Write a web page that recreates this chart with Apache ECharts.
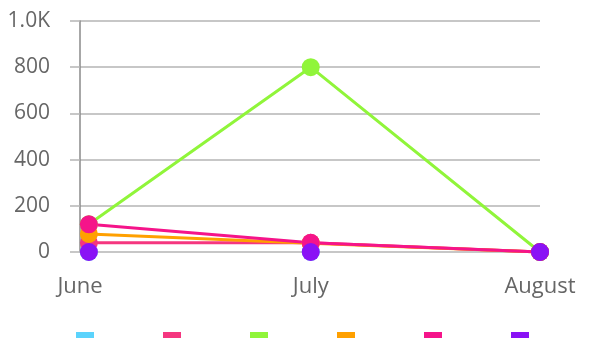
<!DOCTYPE html>
<html>
<head>
<meta charset="utf-8">
<script src="https://cdn.jsdelivr.net/npm/echarts@6/dist/echarts.min.js"></script>
<style>html,body{margin:0;padding:0;background:#fff}#c{width:600px;height:338px}</style>
</head>
<body>
<div id="c"></div>
<script>
var categories = ['June', 'July', 'August'];
var dates = ['2024-06-01', '2024-07-01', '2024-08-01'];
var seriesNames = ['Series 1', 'Series 2', 'Series 3', 'Series 4', 'Series 5', 'Series 6'];
var seriesColors = ['#5bd3fc', '#f5367f', '#90f53a', '#ffa000', '#f5148a', '#8a12f5'];
var showLine = [false, true, true, true, true, false];
var s1 = [0, 0, 0];
var s2 = [40, 40, 0];
var s3 = [120, 800, 0];
var s4 = [78, 38, 0];
var s5 = [120, 40, 0];
var s6 = [0, 0, 0];

var values = [s1, s2, s3, s4, s5, s6];
var DAY = 86400000;
var t0 = Date.parse(dates[0]);
var xs = dates.map(function (d) { return (Date.parse(d) - t0) / DAY; });
var xMin = xs[0] - 1.2, xMax = xs[xs.length - 1];
var labelVals = [xMin].concat(xs.slice(1));

var chart = echarts.init(document.getElementById('c'));
chart.setOption({
  animation: false,
  textStyle: { fontFamily: 'Open Sans' },
  grid: { left: 80, right: 60, top: 21, bottom: 86, containLabel: false },
  legend: {
    data: seriesNames.map(function (n, i) { return { name: n, icon: 'rect', itemStyle: { color: seriesColors[i] } }; }),
    top: 332,
    left: 76,
    padding: 0,
    itemWidth: 18,
    itemHeight: 12,
    itemGap: 69,
    selectedMode: false,
    formatter: function () { return ''; },
    textStyle: { fontSize: 1 }
  },
  xAxis: {
    type: 'value',
    min: xMin,
    max: xMax,
    axisLine: { show: false },
    axisTick: { show: false },
    splitLine: { show: false },
    axisLabel: {
      customValues: labelVals,
      formatter: function (v) {
        var best = 0, bd = Infinity;
        labelVals.forEach(function (lv, i) { var d = Math.abs(lv - v); if (d < bd) { bd = d; best = i; } });
        return categories[best];
      },
      color: '#666',
      fontSize: 22,
      margin: 24
    }
  },
  yAxis: {
    type: 'value',
    min: 0,
    max: 1000,
    interval: 200,
    axisLine: { show: true, onZero: false, lineStyle: { color: '#8a8a8a', width: 1.5 } },
    axisTick: { show: true, length: 10, lineStyle: { color: '#b5b5b5', width: 1.5 } },
    splitLine: { show: true, lineStyle: { color: '#b5b5b5', width: 1.5 } },
    axisLabel: {
      color: '#666',
      fontSize: 21,
      margin: 30,
      formatter: function (v) { return v >= 1000 ? (v / 1000).toFixed(1) + 'K' : String(v); }
    }
  },
  series: values.map(function (arr, i) {
    return {
      name: seriesNames[i],
      type: 'line',
      data: arr.map(function (v, j) { return [xs[j], v]; }),
      color: seriesColors[i],
      lineStyle: { width: showLine[i] ? 3 : 0, opacity: showLine[i] ? 1 : 0, color: seriesColors[i] },
      itemStyle: { color: seriesColors[i] },
      symbol: 'circle',
      symbolSize: 18,
      showSymbol: true,
      clip: false
    };
  })
});
</script>
</body>
</html>
